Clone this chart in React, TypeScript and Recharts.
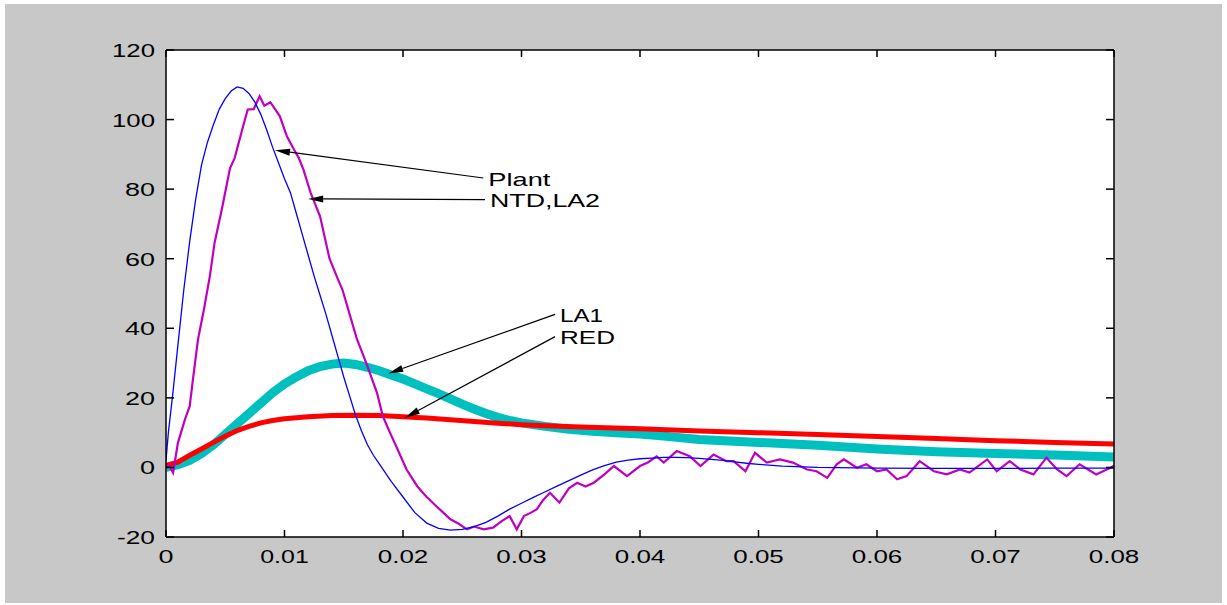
import React from 'react';
import { LineChart, Line, XAxis, YAxis, ReferenceLine, CartesianGrid } from 'recharts';

// ---- axis ticks ----
const xTicks = [0, 0.01, 0.02, 0.03, 0.04, 0.05, 0.06, 0.07, 0.08];
const xTickLabels = ['0', '0.01', '0.02', '0.03', '0.04', '0.05', '0.06', '0.07', '0.08'];
const yTicks = [-20, 0, 20, 40, 60, 80, 100, 120];
const yTickLabels = ['-20', '0', '20', '40', '60', '80', '100', '120'];

// ---- Plant (blue) ----
const plantX = [0, 0.0002, 0.0006, 0.001, 0.0015, 0.002, 0.0025, 0.003, 0.0035, 0.004, 0.0045, 0.005, 0.0055, 0.006, 0.0065, 0.007, 0.0075, 0.008, 0.0085, 0.009, 0.0095, 0.01, 0.0105, 0.011, 0.0115, 0.012, 0.0125, 0.013, 0.0135, 0.014, 0.0145, 0.015, 0.0155, 0.016, 0.0165, 0.017, 0.0175, 0.018, 0.019, 0.02, 0.021, 0.022, 0.023, 0.024, 0.025, 0.026, 0.027, 0.028, 0.029, 0.03, 0.031, 0.032, 0.033, 0.034, 0.035, 0.036, 0.037, 0.038, 0.039, 0.04, 0.041, 0.042, 0.043, 0.044, 0.045, 0.046, 0.047, 0.048, 0.049, 0.05, 0.052, 0.055, 0.06, 0.065, 0.07, 0.075, 0.08];
const plantY = [2, 10, 22, 35, 51, 65, 77, 87, 93.5, 98.5, 103, 106, 108.2, 109.4, 109, 107.5, 105, 101.5, 97, 92, 87.5, 83, 79, 73, 67, 61, 55, 49.5, 44, 38, 32, 26, 20.5, 15, 10.5, 6.5, 3.5, 1, -4, -8.5, -13, -16, -17.5, -18, -17.8, -17, -15.8, -14, -12, -10.3, -8.6, -7, -5.4, -3.8, -2.2, -0.7, 0.5, 1.5, 2.1, 2.5, 2.7, 2.9, 2.9, 2.8, 2.6, 2.3, 2, 1.6, 1.2, 0.9, 0.4, 0, -0.2, -0.3, -0.3, -0.2, -0.2];

// ---- NTD,LA2 (magenta) ----
const ntdX = [0, 0.0003, 0.0006, 0.001, 0.0016, 0.002, 0.0023, 0.0027, 0.0032, 0.0037, 0.0041, 0.0047, 0.0054, 0.0058, 0.0065, 0.0069, 0.0074, 0.0079, 0.0083, 0.0088, 0.0092, 0.0096, 0.0102, 0.0108, 0.0112, 0.0116, 0.0122, 0.013, 0.0138, 0.0144, 0.0149, 0.0155, 0.0161, 0.0169, 0.0178, 0.0183, 0.0189, 0.0195, 0.0203, 0.0212, 0.022, 0.0228, 0.0234, 0.024, 0.0247, 0.0254, 0.026, 0.0268, 0.0276, 0.0283, 0.029, 0.0296, 0.0302, 0.0308, 0.0313, 0.0318, 0.0324, 0.0332, 0.034, 0.0347, 0.0354, 0.0361, 0.037, 0.0378, 0.0389, 0.04, 0.0407, 0.0414, 0.042, 0.0431, 0.0442, 0.0451, 0.0462, 0.0473, 0.0479, 0.0489, 0.0497, 0.0507, 0.0518, 0.0529, 0.0541, 0.0549, 0.0558, 0.0566, 0.0572, 0.0583, 0.0591, 0.06, 0.0608, 0.0617, 0.0625, 0.0636, 0.0648, 0.0659, 0.067, 0.0678, 0.0693, 0.0701, 0.0712, 0.0721, 0.0732, 0.0743, 0.0752, 0.076, 0.0771, 0.0785, 0.0797, 0.08];
const ntdY = [0, 0.5, -1.5, 7, 13.8, 17.6, 26, 36.8, 45.4, 55, 64.6, 74, 86, 89, 98, 102.9, 103, 106.7, 104, 105, 103, 101, 95.2, 91.4, 89, 85.6, 79, 72.2, 60, 55, 51, 44, 37, 30, 21.5, 14.7, 10, 5.5, -0.6, -5.4, -8.5, -11.1, -13, -14.9, -16.2, -17.8, -17, -17.8, -17.3, -15.5, -14, -17.8, -14, -13, -12, -9.5, -7.3, -10.1, -6, -4.4, -5.5, -4.4, -2, 0.4, -2.5, 0.4, 1.5, 3.2, 1.4, 4.7, 3.2, 0.4, 3.7, 1.8, 1.8, -1.1, 4.2, 1.4, 2.3, 1.4, -0.6, -1.1, -3, 0.9, 2.3, -0.1, 0.9, -1.1, -0.6, -3.4, -2.5, 1.8, -1.1, -2, -0.6, -1.5, 2.3, -1.1, 1.8, -0.6, -2, 2.8, -0.6, -2.5, 0.9, -2, -0.1, 0.5];

// ---- LA1 (cyan) ----
const la1X = [0, 0.001, 0.002, 0.003, 0.004, 0.005, 0.006, 0.007, 0.008, 0.009, 0.01, 0.011, 0.012, 0.013, 0.014, 0.015, 0.016, 0.017, 0.018, 0.019, 0.02, 0.021, 0.022, 0.023, 0.024, 0.025, 0.026, 0.027, 0.028, 0.029, 0.03, 0.032, 0.034, 0.036, 0.038, 0.04, 0.042, 0.045, 0.05, 0.055, 0.06, 0.065, 0.07, 0.075, 0.08];
const la1Y = [0, 0.8, 2, 4, 6.5, 9.5, 12.5, 15.5, 18.5, 21.5, 24, 26, 27.8, 29, 29.7, 30, 29.6, 28.8, 27.8, 26.6, 25.4, 24, 22.6, 21.2, 19.7, 18.2, 16.8, 15.5, 14.4, 13.5, 12.8, 11.8, 11, 10.4, 10, 9.6, 9, 8, 7.2, 6.4, 5.3, 4.5, 4, 3.6, 3];

// ---- RED (red) ----
const redX = [0, 0.001, 0.002, 0.003, 0.004, 0.005, 0.006, 0.007, 0.008, 0.009, 0.01, 0.012, 0.014, 0.016, 0.018, 0.02, 0.022, 0.024, 0.026, 0.028, 0.03, 0.032, 0.035, 0.04, 0.045, 0.05, 0.055, 0.06, 0.065, 0.07, 0.075, 0.08];
const redY = [0.5, 1.5, 3.5, 5.3, 7.2, 9, 10.6, 11.8, 12.8, 13.5, 14, 14.6, 14.9, 15, 14.9, 14.6, 14.2, 13.7, 13.2, 12.7, 12.3, 12, 11.6, 11.1, 10.5, 10, 9.5, 8.9, 8.3, 7.7, 7.2, 6.7];

// ---- annotations ----
const annoLabels = ['Plant', 'NTD,LA2', 'LA1', 'RED'];
const annoTailX = [0.02678, 0.02692, 0.03283, 0.03283];
const annoTailY = [83.2, 77.0, 44.0, 37.6];
const annoTipX = [0.0092, 0.012, 0.01876, 0.02017];
const annoTipY = [91.2, 77.2, 27.0, 14.3];
const annoTextWidths = [62, 110, 43, 55];

const toData = (xs: number[], ys: number[]) => xs.map((x, i) => ({ x, y: ys[i] }));
const plantData = toData(plantX, plantY);
const ntdData = toData(ntdX, ntdY);
const la1Data = toData(la1X, la1Y);
const redData = toData(redX, redY);

const FONT = '"Liberation Sans", Arial, Helvetica, sans-serif';
const TEXT_COLOR = '#000';

const charW: Record<string, number> = { '1': 13, '.': 5.5, '-': 8 };
const labelWidth = (s: string) => s.split('').reduce((a, c) => a + (charW[c] ?? 15), 0);

const findIdx = (arr: number[], v: number) => {
  let best = 0;
  arr.forEach((a, i) => { if (Math.abs(a - v) < Math.abs(arr[best] - v)) best = i; });
  return best;
};

const BottomTick = (props: any) => {
  const { x, y, payload } = props;
  const s = xTickLabels[findIdx(xTicks, payload.value)];
  return (
    <g>
      <line x1={x} y1={y} x2={x} y2={y - 7} stroke="#000" strokeWidth={1.5} />
      <text x={x} y={y + 26} textAnchor="middle" fontFamily={FONT} fontSize={19} fill={TEXT_COLOR}
        textLength={labelWidth(s)} lengthAdjust="spacingAndGlyphs">{s}</text>
    </g>
  );
};

const TopTick = (props: any) => {
  const { x, y } = props;
  return <line x1={x} y1={y} x2={x} y2={y + 7} stroke="#000" strokeWidth={1.5} />;
};

const LeftTick = (props: any) => {
  const { x, y, payload } = props;
  const s = yTickLabels[findIdx(yTicks, payload.value)];
  return (
    <g>
      <line x1={x} y1={y} x2={x + 8} y2={y} stroke="#000" strokeWidth={1.5} />
      <text x={x - 11} y={y + 7} textAnchor="end" fontFamily={FONT} fontSize={19} fill={TEXT_COLOR}
        textLength={labelWidth(s)} lengthAdjust="spacingAndGlyphs">{s}</text>
    </g>
  );
};

const RightTick = (props: any) => {
  const { x, y } = props;
  return <line x1={x} y1={y} x2={x - 8} y2={y} stroke="#000" strokeWidth={1.5} />;
};

const makeArrow = (label: string, textW: number) => (props: any) => {
  const { x1, y1, x2, y2 } = props;
  const ang = Math.atan2(y2 - y1, x2 - x1);
  const L = 15;
  const H = 3.5;
  const bx = x2 - L * Math.cos(ang);
  const by = y2 - L * Math.sin(ang);
  const px = -Math.sin(ang) * H;
  const py = Math.cos(ang) * H;
  return (
    <g>
      <line x1={x1} y1={y1} x2={bx} y2={by} stroke="#000" strokeWidth={1.2} />
      <polygon points={`${x2},${y2} ${bx + px},${by + py} ${bx - px},${by - py}`} fill="#000" />
      <text x={x1 + 5} y={y1 + 7.5} fontFamily={FONT} fontSize={19} fill={TEXT_COLOR}
        textLength={textW} lengthAdjust="spacingAndGlyphs">{label}</text>
    </g>
  );
};

export default function App() {
  return (
    <div style={{ position: 'absolute', left: 0, top: 0, width: 1227, height: 605, background: '#ffffff' }}>
      <div style={{ position: 'absolute', left: 5, top: 4, width: 1217, height: 599, background: '#c8c8c8' }} />
      <div style={{ position: 'absolute', left: 0, top: 0 }}>
        <LineChart width={1227} height={605} margin={{ top: 40, right: 103, bottom: 28, left: 106 }}>
          <CartesianGrid fill="#ffffff" stroke="none" horizontal={false} vertical={false} />
          <XAxis xAxisId={0} dataKey="x" type="number" domain={[0, 0.08]} ticks={xTicks} allowDataOverflow
            height={40} tickSize={0} tickMargin={0} tick={<BottomTick />} axisLine={{ stroke: '#000', strokeWidth: 1.5 }} tickLine={false} interval={0} />
          <XAxis xAxisId="top" orientation="top" dataKey="x" type="number" domain={[0, 0.08]} ticks={xTicks} allowDataOverflow
            height={10} tickSize={0} tickMargin={0} tick={<TopTick />} axisLine={{ stroke: '#000', strokeWidth: 1.5 }} tickLine={false} interval={0} />
          <YAxis yAxisId={0} type="number" domain={[-20, 120]} ticks={yTicks} allowDataOverflow
            width={60} tickSize={0} tickMargin={0} tick={<LeftTick />} axisLine={{ stroke: '#000', strokeWidth: 1.5 }} tickLine={false} interval={0} />
          <YAxis yAxisId="right" orientation="right" type="number" domain={[-20, 120]} ticks={yTicks} allowDataOverflow
            width={10} tickSize={0} tickMargin={0} tick={<RightTick />} axisLine={{ stroke: '#000', strokeWidth: 1.5 }} tickLine={false} interval={0} />
          <Line data={la1Data} dataKey="y" type="linear" dot={false} stroke="#00bfbf" strokeWidth={9} isAnimationActive={false} />
          <Line data={redData} dataKey="y" type="linear" dot={false} stroke="#ff0000" strokeWidth={5} isAnimationActive={false} />
          <Line data={ntdData} dataKey="y" type="linear" dot={false} stroke="#bf00bf" strokeWidth={2.2} isAnimationActive={false} />
          <Line data={plantData} dataKey="y" type="linear" dot={false} stroke="#0000ff" strokeWidth={1.3} isAnimationActive={false} />
          {annoLabels.map((lab, i) => (
            <ReferenceLine key={lab} ifOverflow="visible"
              segment={[{ x: annoTailX[i], y: annoTailY[i] }, { x: annoTipX[i], y: annoTipY[i] }]}
              shape={makeArrow(lab, annoTextWidths[i])} />
          ))}
        </LineChart>
      </div>
    </div>
  );
}
